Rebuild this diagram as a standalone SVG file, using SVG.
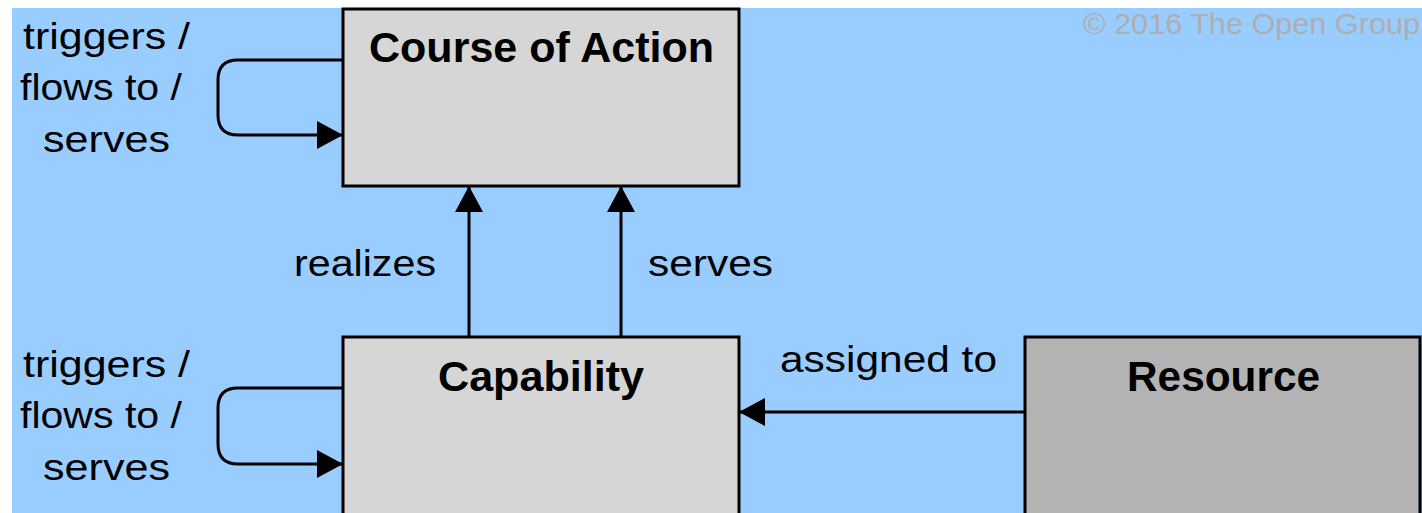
<svg xmlns="http://www.w3.org/2000/svg" width="1422" height="513" viewBox="0 0 1422 513">
<style>
.lbl{font-family:"Liberation Sans",Arial,sans-serif;font-size:37px;fill:#000}
.ttl{font-family:"Liberation Sans",Arial,sans-serif;font-size:42px;font-weight:bold;fill:#000}
.box{stroke:#000;stroke-width:3}
.con{fill:none;stroke:#000;stroke-width:3}
</style>
<defs>
<marker id="ah" markerUnits="userSpaceOnUse" markerWidth="28" markerHeight="28" viewBox="0 0 26 28" refX="26" refY="14" orient="auto">
<path d="M0,0 L26,14 L0,28 Z" fill="#000"/>
</marker>
</defs>
<rect x="0" y="0" width="1422" height="513" fill="#ffffff"/>
<rect x="12" y="8" width="1410" height="505" fill="#99ccff"/>
<text x="1083" y="34" font-family="Liberation Sans, Arial, sans-serif" font-size="30" fill="#aeaeae" textLength="337" lengthAdjust="spacingAndGlyphs">© 2016 The Open Group</text>
<g id="course-of-action">
<rect class="box" x="343" y="9" width="396" height="177" fill="#d6d6d6"/>
<text class="ttl" x="369" y="62" textLength="345" lengthAdjust="spacingAndGlyphs">Course of Action</text>
</g>
<g id="capability">
<rect class="box" x="343" y="337" width="396" height="200" fill="#d6d6d6"/>
<text class="ttl" x="438" y="391" textLength="206" lengthAdjust="spacingAndGlyphs">Capability</text>
</g>
<g id="resource">
<rect class="box" x="1025" y="337" width="395" height="200" fill="#b3b3b3"/>
<text class="ttl" x="1127" y="391" textLength="193" lengthAdjust="spacingAndGlyphs">Resource</text>
</g>
<g id="connectors">
<path class="con" d="M343,60 H238 Q218,60 218,80 V115 Q218,135 238,135 H343" marker-end="url(#ah)"/>
<path class="con" d="M343,388 H238 Q218,388 218,408 V444 Q218,464 238,464 H343" marker-end="url(#ah)"/>
<path class="con" d="M469,337 V186" marker-end="url(#ah)"/>
<path class="con" d="M621,337 V186" marker-end="url(#ah)"/>
<path class="con" d="M1025,412 H739" marker-end="url(#ah)"/>
</g>
<g id="labels">
<text class="lbl" x="23" y="49" textLength="167" lengthAdjust="spacingAndGlyphs">triggers /</text>
<text class="lbl" x="20" y="100" textLength="162" lengthAdjust="spacingAndGlyphs">flows to /</text>
<text class="lbl" x="43" y="152" textLength="127" lengthAdjust="spacingAndGlyphs">serves</text>
<text class="lbl" x="23" y="377" textLength="167" lengthAdjust="spacingAndGlyphs">triggers /</text>
<text class="lbl" x="20" y="428" textLength="162" lengthAdjust="spacingAndGlyphs">flows to /</text>
<text class="lbl" x="43" y="480" textLength="127" lengthAdjust="spacingAndGlyphs">serves</text>
<text class="lbl" x="294" y="276" textLength="142" lengthAdjust="spacingAndGlyphs">realizes</text>
<text class="lbl" x="648" y="276" textLength="125" lengthAdjust="spacingAndGlyphs">serves</text>
<text class="lbl" x="780" y="372" textLength="217" lengthAdjust="spacingAndGlyphs">assigned to</text>
</g>
</svg>
